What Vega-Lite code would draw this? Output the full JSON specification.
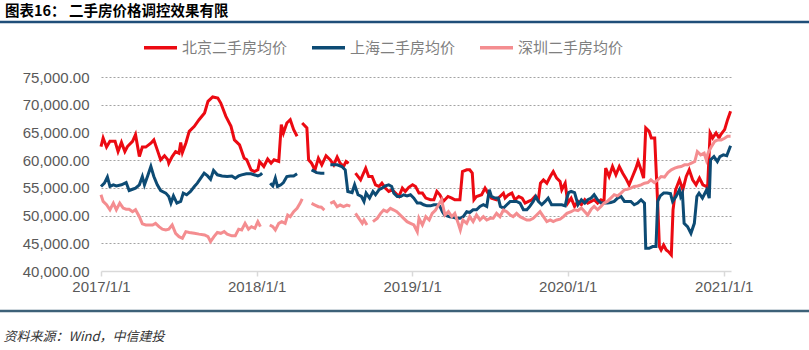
{
  "$schema": "https://vega.github.io/schema/vega-lite/v6.json",
  "width": 630,
  "height": 194,
  "autosize": "none",
  "padding": {"left": 101, "top": 77, "right": 78, "bottom": 79},
  "background": "white",
  "title": {
    "text": "图表16：  二手房价格调控效果有限",
    "anchor": "start",
    "frame": "group",
    "font": "Noto Sans CJK SC",
    "fontSize": 14.5,
    "fontWeight": "bold",
    "color": "#000000",
    "dx": -96,
    "dy": 10,
    "offset": 4,
    "baseline": "middle"
  },
  "config": {"view": {"stroke": null}, "font": "Liberation Sans"},
  "layer": [
    {
      "data": {"values": [{}]},
      "mark": {"type": "rule", "color": "#1f4e79", "strokeWidth": 2.5, "clip": false},
      "encoding": {
        "x": {"datum": {"year": 2016, "month": 1, "date": 1, "utc": true}, "type": "temporal"},
        "x2": {"datum": {"year": 2022, "month": 1, "date": 1, "utc": true}},
        "y": {
          "datum": 84923,
          "type": "quantitative",
          "axis": {
            "values": [40000, 45000, 50000, 55000, 60000, 65000, 70000, 75000],
            "format": ",.2f",
            "labelOverlap": false,
            "grid": true,
            "gridColor": "#8c8c8c",
            "gridDash": [2, 2],
            "gridWidth": 0.8,
            "gridOpacity": {"condition": {"test": "datum.value === 40000", "value": 0}, "value": 1},
            "domain": false,
            "ticks": false,
            "labelPadding": 12,
            "labelFont": "Liberation Sans",
            "labelFontSize": 15,
            "labelColor": "#595959",
            "title": null
          }
        }
      }
    },
    {
      "data": {"values": [{}]},
      "mark": {"type": "rule", "color": "#3d6178", "strokeWidth": 2.5, "clip": false},
      "encoding": {
        "x": {"datum": {"year": 2016, "month": 1, "date": 1, "utc": true}, "type": "temporal"},
        "x2": {"datum": {"year": 2022, "month": 1, "date": 1, "utc": true}},
        "y": {
          "datum": 32784,
          "type": "quantitative",
          "axis": {
            "values": [40000, 45000, 50000, 55000, 60000, 65000, 70000, 75000],
            "format": ",.2f",
            "labelOverlap": false,
            "grid": true,
            "gridColor": "#8c8c8c",
            "gridDash": [2, 2],
            "gridWidth": 0.8,
            "gridOpacity": {"condition": {"test": "datum.value === 40000", "value": 0}, "value": 1},
            "domain": false,
            "ticks": false,
            "labelPadding": 12,
            "labelFont": "Liberation Sans",
            "labelFontSize": 15,
            "labelColor": "#595959",
            "title": null
          }
        }
      }
    },
    {
      "data": {
        "format": {"parse": {"d": "utc:'%Y-%m-%d'"}},
        "values": [
          {"c":"北京二手房均价","d":"2017-01-01","v":62450},
          {"c":"北京二手房均价","d":"2017-01-06","v":64000},
          {"c":"北京二手房均价","d":"2017-01-14","v":62350},
          {"c":"北京二手房均价","d":"2017-01-22","v":63400},
          {"c":"北京二手房均价","d":"2017-02-03","v":63400},
          {"c":"北京二手房均价","d":"2017-02-10","v":61550},
          {"c":"北京二手房均价","d":"2017-02-18","v":63200},
          {"c":"北京二手房均价","d":"2017-02-26","v":61550},
          {"c":"北京二手房均价","d":"2017-03-04","v":62450},
          {"c":"北京二手房均价","d":"2017-03-16","v":63400},
          {"c":"北京二手房均价","d":"2017-03-23","v":64600},
          {"c":"北京二手房均价","d":"2017-04-01","v":60650},
          {"c":"北京二手房均价","d":"2017-04-08","v":62350},
          {"c":"北京二手房均价","d":"2017-04-16","v":62350},
          {"c":"北京二手房均价","d":"2017-04-28","v":63050},
          {"c":"北京二手房均价","d":"2017-05-05","v":63650},
          {"c":"北京二手房均价","d":"2017-05-13","v":61850},
          {"c":"北京二手房均价","d":"2017-05-21","v":60050},
          {"c":"北京二手房均价","d":"2017-05-30","v":60800},
          {"c":"北京二手房均价","d":"2017-06-07","v":60050},
          {"c":"北京二手房均价","d":"2017-06-09","v":59450},
          {"c":"北京二手房均价","d":"2017-06-17","v":60650},
          {"c":"北京二手房均价","d":"2017-06-25","v":61550},
          {"c":"北京二手房均价","d":"2017-07-03","v":61250},
          {"c":"北京二手房均价","d":"2017-07-07","v":63200},
          {"c":"北京二手房均价","d":"2017-07-11","v":61400},
          {"c":"北京二手房均价","d":"2017-07-19","v":63050},
          {"c":"北京二手房均价","d":"2017-07-27","v":65200},
          {"c":"北京二手房均价","d":"2017-08-08","v":66100},
          {"c":"北京二手房均价","d":"2017-08-19","v":67300},
          {"c":"北京二手房均价","d":"2017-09-01","v":68500},
          {"c":"北京二手房均价","d":"2017-09-09","v":70600},
          {"c":"北京二手房均价","d":"2017-09-20","v":71400},
          {"c":"北京二手房均价","d":"2017-10-02","v":71200},
          {"c":"北京二手房均价","d":"2017-10-09","v":70300},
          {"c":"北京二手房均价","d":"2017-10-21","v":67900},
          {"c":"北京二手房均价","d":"2017-11-02","v":66100},
          {"c":"北京二手房均价","d":"2017-11-10","v":63650},
          {"c":"北京二手房均价","d":"2017-11-22","v":62750},
          {"c":"北京二手房均价","d":"2017-12-03","v":60350},
          {"c":"北京二手房均价","d":"2017-12-09","v":60050},
          {"c":"北京二手房均价","d":"2017-12-19","v":58250},
          {"c":"北京二手房均价","d":"2017-12-27","v":57950},
          {"c":"北京二手房均价","d":"2018-01-04","v":58250},
          {"c":"北京二手房均价","d":"2018-01-08","v":59750},
          {"c":"北京二手房均价","d":"2018-01-18","v":58850},
          {"c":"北京二手房均价","d":"2018-01-27","v":60200},
          {"c":"北京二手房均价","d":"2018-02-04","v":59450},
          {"c":"北京二手房均价","d":"2018-02-11","v":60050},
          {"c":"北京二手房均价","d":"2018-02-22","v":59750},
          {"c":"北京二手房均价","d":"2018-02-28","v":66400},
          {"c":"北京二手房均价","d":"2018-03-05","v":64900},
          {"c":"北京二手房均价","d":"2018-03-13","v":66700},
          {"c":"北京二手房均价","d":"2018-03-21","v":67300},
          {"c":"北京二手房均价","d":"2018-03-29","v":65500},
          {"c":"北京二手房均价","d":"2018-04-06","v":64300},
          {"c":"北京二手房均价","d":"2018-04-12","v":null},
          {"c":"北京二手房均价","d":"2018-04-18","v":66700},
          {"c":"北京二手房均价","d":"2018-04-29","v":65800},
          {"c":"北京二手房均价","d":"2018-05-03","v":60050},
          {"c":"北京二手房均价","d":"2018-05-10","v":59450},
          {"c":"北京二手房均价","d":"2018-05-18","v":58250},
          {"c":"北京二手房均价","d":"2018-05-26","v":60350},
          {"c":"北京二手房均价","d":"2018-06-03","v":59150},
          {"c":"北京二手房均价","d":"2018-06-13","v":60800},
          {"c":"北京二手房均价","d":"2018-06-23","v":60050},
          {"c":"北京二手房均价","d":"2018-07-01","v":59150},
          {"c":"北京二手房均价","d":"2018-07-09","v":60550},
          {"c":"北京二手房均价","d":"2018-07-16","v":59450},
          {"c":"北京二手房均价","d":"2018-07-24","v":58850},
          {"c":"北京二手房均价","d":"2018-07-30","v":59750},
          {"c":"北京二手房均价","d":"2018-08-05","v":59450},
          {"c":"北京二手房均价","d":"2018-08-13","v":null},
          {"c":"北京二手房均价","d":"2018-08-21","v":57650},
          {"c":"北京二手房均价","d":"2018-09-02","v":56450},
          {"c":"北京二手房均价","d":"2018-09-14","v":58550},
          {"c":"北京二手房均价","d":"2018-09-21","v":57050},
          {"c":"北京二手房均价","d":"2018-09-29","v":57050},
          {"c":"北京二手房均价","d":"2018-10-07","v":55550},
          {"c":"北京二手房均价","d":"2018-10-15","v":55250},
          {"c":"北京二手房均价","d":"2018-10-22","v":55850},
          {"c":"北京二手房均价","d":"2018-10-30","v":54950},
          {"c":"北京二手房均价","d":"2018-11-07","v":54350},
          {"c":"北京二手房均价","d":"2018-11-15","v":54650},
          {"c":"北京二手房均价","d":"2018-11-23","v":54050},
          {"c":"北京二手房均价","d":"2018-12-01","v":53450},
          {"c":"北京二手房均价","d":"2018-12-09","v":54950},
          {"c":"北京二手房均价","d":"2018-12-16","v":54350},
          {"c":"北京二手房均价","d":"2018-12-24","v":55100},
          {"c":"北京二手房均价","d":"2019-01-02","v":55550},
          {"c":"北京二手房均价","d":"2019-01-09","v":55250},
          {"c":"北京二手房均价","d":"2019-01-17","v":54050},
          {"c":"北京二手房均价","d":"2019-01-25","v":54050},
          {"c":"北京二手房均价","d":"2019-02-02","v":53150},
          {"c":"北京二手房均价","d":"2019-02-13","v":52850},
          {"c":"北京二手房均价","d":"2019-02-21","v":52850},
          {"c":"北京二手房均价","d":"2019-02-28","v":54350},
          {"c":"北京二手房均价","d":"2019-03-07","v":53750},
          {"c":"北京二手房均价","d":"2019-03-15","v":52550},
          {"c":"北京二手房均价","d":"2019-03-26","v":53450},
          {"c":"北京二手房均价","d":"2019-04-04","v":53150},
          {"c":"北京二手房均价","d":"2019-04-11","v":52850},
          {"c":"北京二手房均价","d":"2019-04-23","v":52850},
          {"c":"北京二手房均价","d":"2019-04-29","v":57950},
          {"c":"北京二手房均价","d":"2019-05-09","v":58250},
          {"c":"北京二手房均价","d":"2019-05-16","v":58250},
          {"c":"北京二手房均价","d":"2019-05-22","v":57650},
          {"c":"北京二手房均价","d":"2019-05-26","v":52850},
          {"c":"北京二手房均价","d":"2019-06-01","v":53450},
          {"c":"北京二手房均价","d":"2019-06-13","v":53750},
          {"c":"北京二手房均价","d":"2019-06-21","v":54950},
          {"c":"北京二手房均价","d":"2019-06-28","v":54050},
          {"c":"北京二手房均价","d":"2019-07-06","v":53150},
          {"c":"北京二手房均价","d":"2019-07-18","v":52850},
          {"c":"北京二手房均价","d":"2019-07-26","v":53450},
          {"c":"北京二手房均价","d":"2019-08-03","v":54050},
          {"c":"北京二手房均价","d":"2019-08-07","v":53150},
          {"c":"北京二手房均价","d":"2019-08-15","v":53750},
          {"c":"北京二手房均价","d":"2019-08-23","v":54050},
          {"c":"北京二手房均价","d":"2019-08-30","v":52850},
          {"c":"北京二手房均价","d":"2019-09-08","v":53450},
          {"c":"北京二手房均价","d":"2019-09-16","v":53150},
          {"c":"北京二手房均价","d":"2019-09-23","v":52250},
          {"c":"北京二手房均价","d":"2019-10-01","v":52550},
          {"c":"北京二手房均价","d":"2019-10-09","v":52850},
          {"c":"北京二手房均价","d":"2019-10-16","v":53450},
          {"c":"北京二手房均价","d":"2019-10-24","v":52850},
          {"c":"北京二手房均价","d":"2019-10-29","v":55850},
          {"c":"北京二手房均价","d":"2019-11-05","v":56450},
          {"c":"北京二手房均价","d":"2019-11-13","v":55850},
          {"c":"北京二手房均价","d":"2019-11-21","v":57050},
          {"c":"北京二手房均价","d":"2019-11-28","v":57950},
          {"c":"北京二手房均价","d":"2019-12-06","v":56750},
          {"c":"北京二手房均价","d":"2019-12-14","v":56150},
          {"c":"北京二手房均价","d":"2019-12-18","v":54650},
          {"c":"北京二手房均价","d":"2019-12-26","v":55850},
          {"c":"北京二手房均价","d":"2020-01-01","v":52250},
          {"c":"北京二手房均价","d":"2020-01-09","v":53150},
          {"c":"北京二手房均价","d":"2020-01-17","v":51650},
          {"c":"北京二手房均价","d":"2020-01-25","v":52550},
          {"c":"北京二手房均价","d":"2020-02-02","v":51950},
          {"c":"北京二手房均价","d":"2020-02-10","v":52850},
          {"c":"北京二手房均价","d":"2020-02-17","v":52250},
          {"c":"北京二手房均价","d":"2020-02-25","v":52550},
          {"c":"北京二手房均价","d":"2020-03-03","v":52850},
          {"c":"北京二手房均价","d":"2020-03-11","v":52250},
          {"c":"北京二手房均价","d":"2020-03-19","v":52850},
          {"c":"北京二手房均价","d":"2020-03-26","v":52550},
          {"c":"北京二手房均价","d":"2020-03-30","v":58550},
          {"c":"北京二手房均价","d":"2020-04-07","v":57050},
          {"c":"北京二手房均价","d":"2020-04-15","v":58850},
          {"c":"北京二手房均价","d":"2020-04-23","v":57350},
          {"c":"北京二手房均价","d":"2020-05-01","v":58850},
          {"c":"北京二手房均价","d":"2020-05-09","v":57650},
          {"c":"北京二手房均价","d":"2020-05-16","v":56750},
          {"c":"北京二手房均价","d":"2020-05-24","v":55550},
          {"c":"北京二手房均价","d":"2020-06-01","v":57050},
          {"c":"北京二手房均价","d":"2020-06-09","v":58550},
          {"c":"北京二手房均价","d":"2020-06-14","v":59750},
          {"c":"北京二手房均价","d":"2020-06-21","v":58250},
          {"c":"北京二手房均价","d":"2020-06-27","v":56750},
          {"c":"北京二手房均价","d":"2020-07-02","v":65800},
          {"c":"北京二手房均价","d":"2020-07-10","v":65200},
          {"c":"北京二手房均价","d":"2020-07-15","v":64000},
          {"c":"北京二手房均价","d":"2020-07-23","v":64000},
          {"c":"北京二手房均价","d":"2020-07-26","v":58850},
          {"c":"北京二手房均价","d":"2020-07-30","v":52250},
          {"c":"北京二手房均价","d":"2020-08-03","v":44400},
          {"c":"北京二手房均价","d":"2020-08-07","v":43800},
          {"c":"北京二手房均价","d":"2020-08-13","v":44700},
          {"c":"北京二手房均价","d":"2020-08-19","v":43800},
          {"c":"北京二手房均价","d":"2020-08-24","v":43500},
          {"c":"北京二手房均价","d":"2020-08-31","v":42900},
          {"c":"北京二手房均价","d":"2020-09-04","v":51050},
          {"c":"北京二手房均价","d":"2020-09-10","v":54650},
          {"c":"北京二手房均价","d":"2020-09-19","v":56450},
          {"c":"北京二手房均价","d":"2020-09-27","v":54650},
          {"c":"北京二手房均价","d":"2020-10-05","v":57050},
          {"c":"北京二手房均价","d":"2020-10-12","v":58250},
          {"c":"北京二手房均价","d":"2020-10-20","v":56450},
          {"c":"北京二手房均价","d":"2020-10-28","v":55550},
          {"c":"北京二手房均价","d":"2020-11-05","v":56750},
          {"c":"北京二手房均价","d":"2020-11-13","v":55550},
          {"c":"北京二手房均价","d":"2020-11-21","v":55250},
          {"c":"北京二手房均价","d":"2020-11-24","v":54950},
          {"c":"北京二手房均价","d":"2020-11-30","v":64900},
          {"c":"北京二手房均价","d":"2020-12-06","v":64000},
          {"c":"北京二手房均价","d":"2020-12-14","v":64900},
          {"c":"北京二手房均价","d":"2020-12-21","v":64000},
          {"c":"北京二手房均价","d":"2020-12-25","v":64600},
          {"c":"北京二手房均价","d":"2021-01-03","v":65500},
          {"c":"北京二手房均价","d":"2021-01-10","v":67300},
          {"c":"北京二手房均价","d":"2021-01-17","v":68800},

          {"c":"上海二手房均价","d":"2017-01-01","v":55250},
          {"c":"上海二手房均价","d":"2017-01-09","v":55850},
          {"c":"上海二手房均价","d":"2017-01-16","v":56950},
          {"c":"上海二手房均价","d":"2017-01-22","v":55250},
          {"c":"上海二手房均价","d":"2017-01-30","v":55550},
          {"c":"上海二手房均价","d":"2017-02-06","v":55350},
          {"c":"上海二手房均价","d":"2017-02-18","v":55550},
          {"c":"上海二手房均价","d":"2017-03-01","v":55950},
          {"c":"上海二手房均价","d":"2017-03-08","v":54500},
          {"c":"上海二手房均价","d":"2017-03-16","v":54750},
          {"c":"上海二手房均价","d":"2017-03-23","v":54950},
          {"c":"上海二手房均价","d":"2017-04-01","v":55550},
          {"c":"上海二手房均价","d":"2017-04-08","v":57050},
          {"c":"上海二手房均价","d":"2017-04-13","v":55550},
          {"c":"上海二手房均价","d":"2017-04-20","v":57050},
          {"c":"上海二手房均价","d":"2017-04-28","v":58850},
          {"c":"上海二手房均价","d":"2017-05-05","v":57050},
          {"c":"上海二手房均价","d":"2017-05-13","v":55550},
          {"c":"上海二手房均价","d":"2017-05-21","v":54500},
          {"c":"上海二手房均价","d":"2017-06-02","v":54050},
          {"c":"上海二手房均价","d":"2017-06-09","v":53450},
          {"c":"上海二手房均价","d":"2017-06-14","v":52250},
          {"c":"上海二手房均价","d":"2017-06-20","v":53550},
          {"c":"上海二手房均价","d":"2017-06-28","v":52250},
          {"c":"上海二手房均价","d":"2017-07-07","v":52550},
          {"c":"上海二手房均价","d":"2017-07-13","v":54050},
          {"c":"上海二手房均价","d":"2017-07-21","v":53750},
          {"c":"上海二手房均价","d":"2017-07-30","v":54350},
          {"c":"上海二手房均价","d":"2017-08-08","v":55250},
          {"c":"上海二手房均价","d":"2017-08-15","v":55850},
          {"c":"上海二手房均价","d":"2017-08-23","v":56750},
          {"c":"上海二手房均价","d":"2017-08-31","v":57650},
          {"c":"上海二手房均价","d":"2017-09-08","v":57150},
          {"c":"上海二手房均价","d":"2017-09-15","v":56550},
          {"c":"上海二手房均价","d":"2017-09-22","v":58150},
          {"c":"上海二手房均价","d":"2017-10-01","v":57350},
          {"c":"上海二手房均价","d":"2017-10-12","v":57150},
          {"c":"上海二手房均价","d":"2017-10-24","v":57050},
          {"c":"上海二手房均价","d":"2017-11-04","v":57150},
          {"c":"上海二手房均价","d":"2017-11-12","v":56750},
          {"c":"上海二手房均价","d":"2017-11-20","v":57150},
          {"c":"上海二手房均价","d":"2017-11-27","v":57350},
          {"c":"上海二手房均价","d":"2017-12-08","v":57550},
          {"c":"上海二手房均价","d":"2017-12-19","v":57550},
          {"c":"上海二手房均价","d":"2018-01-04","v":57150},
          {"c":"上海二手房均价","d":"2018-01-10","v":57350},
          {"c":"上海二手房均价","d":"2018-01-14","v":57650},
          {"c":"上海二手房均价","d":"2018-01-22","v":null},
          {"c":"上海二手房均价","d":"2018-02-02","v":55850},
          {"c":"上海二手房均价","d":"2018-02-08","v":55350},
          {"c":"上海二手房均价","d":"2018-02-14","v":56750},
          {"c":"上海二手房均价","d":"2018-02-19","v":55250},
          {"c":"上海二手房均价","d":"2018-02-27","v":55550},
          {"c":"上海二手房均价","d":"2018-03-05","v":55950},
          {"c":"上海二手房均价","d":"2018-03-13","v":57050},
          {"c":"上海二手房均价","d":"2018-03-21","v":57150},
          {"c":"上海二手房均价","d":"2018-03-29","v":57150},
          {"c":"上海二手房均价","d":"2018-04-06","v":57550},
          {"c":"上海二手房均价","d":"2018-04-20","v":null},
          {"c":"上海二手房均价","d":"2018-05-10","v":58250},
          {"c":"上海二手房均价","d":"2018-05-22","v":57750},
          {"c":"上海二手房均价","d":"2018-06-01","v":57650},
          {"c":"上海二手房均价","d":"2018-06-09","v":57650},
          {"c":"上海二手房均价","d":"2018-06-16","v":null},
          {"c":"上海二手房均价","d":"2018-06-23","v":59150},
          {"c":"上海二手房均价","d":"2018-07-09","v":59150},
          {"c":"上海二手房均价","d":"2018-07-20","v":58850},
          {"c":"上海二手房均价","d":"2018-07-28","v":58250},
          {"c":"上海二手房均价","d":"2018-08-03","v":54350},
          {"c":"上海二手房均价","d":"2018-08-13","v":54150},
          {"c":"上海二手房均价","d":"2018-08-19","v":55550},
          {"c":"上海二手房均价","d":"2018-08-27","v":53750},
          {"c":"上海二手房均价","d":"2018-09-04","v":53450},
          {"c":"上海二手房均价","d":"2018-09-10","v":52550},
          {"c":"上海二手房均价","d":"2018-09-15","v":54050},
          {"c":"上海二手房均价","d":"2018-09-23","v":53150},
          {"c":"上海二手房均价","d":"2018-10-01","v":54350},
          {"c":"上海二手房均价","d":"2018-10-07","v":53750},
          {"c":"上海二手房均价","d":"2018-10-15","v":54650},
          {"c":"上海二手房均价","d":"2018-10-22","v":54950},
          {"c":"上海二手房均价","d":"2018-10-30","v":55350},
          {"c":"上海二手房均价","d":"2018-11-07","v":55550},
          {"c":"上海二手房均价","d":"2018-11-14","v":55250},
          {"c":"上海二手房均价","d":"2018-11-19","v":54050},
          {"c":"上海二手房均价","d":"2018-11-27","v":53450},
          {"c":"上海二手房均价","d":"2018-12-05","v":53450},
          {"c":"上海二手房均价","d":"2018-12-12","v":53750},
          {"c":"上海二手房均价","d":"2018-12-20","v":53550},
          {"c":"上海二手房均价","d":"2018-12-28","v":53750},
          {"c":"上海二手房均价","d":"2019-01-05","v":53150},
          {"c":"上海二手房均价","d":"2019-01-13","v":52250},
          {"c":"上海二手房均价","d":"2019-01-21","v":52250},
          {"c":"上海二手房均价","d":"2019-01-28","v":51950},
          {"c":"上海二手房均价","d":"2019-02-05","v":51750},
          {"c":"上海二手房均价","d":"2019-02-13","v":51750},
          {"c":"上海二手房均价","d":"2019-02-21","v":51950},
          {"c":"上海二手房均价","d":"2019-02-28","v":51950},
          {"c":"上海二手房均价","d":"2019-03-07","v":51650},
          {"c":"上海二手房均价","d":"2019-03-13","v":50700},
          {"c":"上海二手房均价","d":"2019-03-18","v":50100},
          {"c":"上海二手房均价","d":"2019-03-30","v":49800},
          {"c":"上海二手房均价","d":"2019-04-08","v":49700},
          {"c":"上海二手房均价","d":"2019-04-15","v":49500},
          {"c":"上海二手房均价","d":"2019-04-23","v":49500},
          {"c":"上海二手房均价","d":"2019-05-01","v":49800},
          {"c":"上海二手房均价","d":"2019-05-09","v":50700},
          {"c":"上海二手房均价","d":"2019-05-16","v":50550},
          {"c":"上海二手房均价","d":"2019-05-24","v":51050},
          {"c":"上海二手房均价","d":"2019-06-01","v":51050},
          {"c":"上海二手房均价","d":"2019-06-09","v":51650},
          {"c":"上海二手房均价","d":"2019-06-17","v":51950},
          {"c":"上海二手房均价","d":"2019-06-25","v":51650},
          {"c":"上海二手房均价","d":"2019-07-01","v":54650},
          {"c":"上海二手房均价","d":"2019-07-06","v":53450},
          {"c":"上海二手房均价","d":"2019-07-14","v":53150},
          {"c":"上海二手房均价","d":"2019-07-22","v":53150},
          {"c":"上海二手房均价","d":"2019-07-27","v":51650},
          {"c":"上海二手房均价","d":"2019-08-03","v":51350},
          {"c":"上海二手房均价","d":"2019-08-11","v":51950},
          {"c":"上海二手房均价","d":"2019-08-19","v":52550},
          {"c":"上海二手房均价","d":"2019-08-26","v":52550},
          {"c":"上海二手房均价","d":"2019-09-03","v":52550},
          {"c":"上海二手房均价","d":"2019-09-11","v":52250},
          {"c":"上海二手房均价","d":"2019-09-19","v":51050},
          {"c":"上海二手房均价","d":"2019-09-27","v":51050},
          {"c":"上海二手房均价","d":"2019-10-04","v":51650},
          {"c":"上海二手房均价","d":"2019-10-12","v":52550},
          {"c":"上海二手房均价","d":"2019-10-18","v":53450},
          {"c":"上海二手房均价","d":"2019-10-24","v":52550},
          {"c":"上海二手房均价","d":"2019-11-01","v":51950},
          {"c":"上海二手房均价","d":"2019-11-09","v":52550},
          {"c":"上海二手房均价","d":"2019-11-16","v":53150},
          {"c":"上海二手房均价","d":"2019-11-24","v":51950},
          {"c":"上海二手房均价","d":"2019-12-02","v":51950},
          {"c":"上海二手房均价","d":"2019-12-10","v":51950},
          {"c":"上海二手房均价","d":"2019-12-18","v":51950},
          {"c":"上海二手房均价","d":"2019-12-26","v":51750},
          {"c":"上海二手房均价","d":"2019-12-30","v":53150},
          {"c":"上海二手房均价","d":"2020-01-03","v":54150},
          {"c":"上海二手房均价","d":"2020-01-09","v":54350},
          {"c":"上海二手房均价","d":"2020-01-17","v":54150},
          {"c":"上海二手房均价","d":"2020-01-25","v":51950},
          {"c":"上海二手房均价","d":"2020-02-02","v":52850},
          {"c":"上海二手房均价","d":"2020-02-10","v":52250},
          {"c":"上海二手房均价","d":"2020-02-17","v":52850},
          {"c":"上海二手房均价","d":"2020-02-25","v":53150},
          {"c":"上海二手房均价","d":"2020-03-03","v":53750},
          {"c":"上海二手房均价","d":"2020-03-11","v":52850},
          {"c":"上海二手房均价","d":"2020-03-19","v":52250},
          {"c":"上海二手房均价","d":"2020-03-26","v":52250},
          {"c":"上海二手房均价","d":"2020-04-03","v":52250},
          {"c":"上海二手房均价","d":"2020-04-11","v":52350},
          {"c":"上海二手房均价","d":"2020-04-19","v":52550},
          {"c":"上海二手房均价","d":"2020-04-27","v":53150},
          {"c":"上海二手房均价","d":"2020-05-05","v":53450},
          {"c":"上海二手房均价","d":"2020-05-13","v":52550},
          {"c":"上海二手房均价","d":"2020-05-20","v":52550},
          {"c":"上海二手房均价","d":"2020-05-28","v":52550},
          {"c":"上海二手房均价","d":"2020-06-05","v":51950},
          {"c":"上海二手房均价","d":"2020-06-13","v":52250},
          {"c":"上海二手房均价","d":"2020-06-21","v":52850},
          {"c":"上海二手房均价","d":"2020-06-29","v":52250},
          {"c":"上海二手房均价","d":"2020-07-02","v":44100},
          {"c":"上海二手房均价","d":"2020-07-10","v":44100},
          {"c":"上海二手房均价","d":"2020-07-18","v":44400},
          {"c":"上海二手房均价","d":"2020-07-26","v":44400},
          {"c":"上海二手房均价","d":"2020-07-30","v":52550},
          {"c":"上海二手房均价","d":"2020-08-05","v":53550},
          {"c":"上海二手房均价","d":"2020-08-13","v":54050},
          {"c":"上海二手房均价","d":"2020-08-21","v":54050},
          {"c":"上海二手房均价","d":"2020-08-29","v":53950},
          {"c":"上海二手房均价","d":"2020-09-03","v":52550},
          {"c":"上海二手房均价","d":"2020-09-11","v":53450},
          {"c":"上海二手房均价","d":"2020-09-19","v":54650},
          {"c":"上海二手房均价","d":"2020-09-22","v":53450},
          {"c":"上海二手房均价","d":"2020-09-26","v":54050},
          {"c":"上海二手房均价","d":"2020-09-30","v":48600},
          {"c":"上海二手房均价","d":"2020-10-08","v":48000},
          {"c":"上海二手房均价","d":"2020-10-16","v":46800},
          {"c":"上海二手房均价","d":"2020-10-24","v":48600},
          {"c":"上海二手房均价","d":"2020-10-30","v":53450},
          {"c":"上海二手房均价","d":"2020-11-04","v":54050},
          {"c":"上海二手房均价","d":"2020-11-12","v":53150},
          {"c":"上海二手房均价","d":"2020-11-16","v":53750},
          {"c":"上海二手房均价","d":"2020-11-22","v":54650},
          {"c":"上海二手房均价","d":"2020-11-28","v":53150},
          {"c":"上海二手房均价","d":"2020-12-01","v":60050},
          {"c":"上海二手房均价","d":"2020-12-09","v":60650},
          {"c":"上海二手房均价","d":"2020-12-17","v":59750},
          {"c":"上海二手房均价","d":"2020-12-23","v":60650},
          {"c":"上海二手房均价","d":"2020-12-31","v":60950},
          {"c":"上海二手房均价","d":"2021-01-08","v":60800},
          {"c":"上海二手房均价","d":"2021-01-17","v":62600},

          {"c":"深圳二手房均价","d":"2017-01-01","v":53750},
          {"c":"深圳二手房均价","d":"2017-01-06","v":52550},
          {"c":"深圳二手房均价","d":"2017-01-14","v":51950},
          {"c":"深圳二手房均价","d":"2017-01-22","v":51050},
          {"c":"深圳二手房均价","d":"2017-01-30","v":52250},
          {"c":"深圳二手房均价","d":"2017-02-06","v":51050},
          {"c":"深圳二手房均价","d":"2017-02-14","v":52250},
          {"c":"深圳二手房均价","d":"2017-02-22","v":51350},
          {"c":"深圳二手房均价","d":"2017-03-01","v":51150},
          {"c":"深圳二手房均价","d":"2017-03-08","v":51150},
          {"c":"深圳二手房均价","d":"2017-03-16","v":50700},
          {"c":"深圳二手房均价","d":"2017-03-23","v":51050},
          {"c":"深圳二手房均价","d":"2017-04-01","v":49800},
          {"c":"深圳二手房均价","d":"2017-04-08","v":48500},
          {"c":"深圳二手房均价","d":"2017-04-16","v":48300},
          {"c":"深圳二手房均价","d":"2017-04-24","v":48300},
          {"c":"深圳二手房均价","d":"2017-05-02","v":48300},
          {"c":"深圳二手房均价","d":"2017-05-09","v":48600},
          {"c":"深圳二手房均价","d":"2017-05-17","v":48000},
          {"c":"深圳二手房均价","d":"2017-05-25","v":47550},
          {"c":"深圳二手房均价","d":"2017-06-02","v":47400},
          {"c":"深圳二手房均价","d":"2017-06-09","v":47550},
          {"c":"深圳二手房均价","d":"2017-06-17","v":48300},
          {"c":"深圳二手房均价","d":"2017-06-25","v":46800},
          {"c":"深圳二手房均价","d":"2017-07-03","v":46200},
          {"c":"深圳二手房均价","d":"2017-07-11","v":45900},
          {"c":"深圳二手房均价","d":"2017-07-19","v":47100},
          {"c":"深圳二手房均价","d":"2017-07-27","v":46950},
          {"c":"深圳二手房均价","d":"2017-08-08","v":46800},
          {"c":"深圳二手房均价","d":"2017-08-19","v":46650},
          {"c":"深圳二手房均价","d":"2017-09-01","v":46500},
          {"c":"深圳二手房均价","d":"2017-09-09","v":46200},
          {"c":"深圳二手房均价","d":"2017-09-15","v":45300},
          {"c":"深圳二手房均价","d":"2017-09-23","v":46200},
          {"c":"深圳二手房均价","d":"2017-10-01","v":46950},
          {"c":"深圳二手房均价","d":"2017-10-09","v":46800},
          {"c":"深圳二手房均价","d":"2017-10-17","v":47100},
          {"c":"深圳二手房均价","d":"2017-10-24","v":46650},
          {"c":"深圳二手房均价","d":"2017-11-04","v":46350},
          {"c":"深圳二手房均价","d":"2017-11-12","v":46350},
          {"c":"深圳二手房均价","d":"2017-11-20","v":47550},
          {"c":"深圳二手房均价","d":"2017-11-27","v":47400},
          {"c":"深圳二手房均价","d":"2017-12-05","v":48600},
          {"c":"深圳二手房均价","d":"2017-12-13","v":47550},
          {"c":"深圳二手房均价","d":"2017-12-20","v":48000},
          {"c":"深圳二手房均价","d":"2017-12-28","v":47700},
          {"c":"深圳二手房均价","d":"2018-01-04","v":48900},
          {"c":"深圳二手房均价","d":"2018-01-10","v":48000},
          {"c":"深圳二手房均价","d":"2018-01-22","v":null},
          {"c":"深圳二手房均价","d":"2018-02-01","v":48300},
          {"c":"深圳二手房均价","d":"2018-02-08","v":48000},
          {"c":"深圳二手房均价","d":"2018-02-14","v":47400},
          {"c":"深圳二手房均价","d":"2018-02-22","v":48600},
          {"c":"深圳二手房均价","d":"2018-03-01","v":48900},
          {"c":"深圳二手房均价","d":"2018-03-09","v":48600},
          {"c":"深圳二手房均价","d":"2018-03-15","v":50100},
          {"c":"深圳二手房均价","d":"2018-03-21","v":49800},
          {"c":"深圳二手房均价","d":"2018-03-29","v":50700},
          {"c":"深圳二手房均价","d":"2018-04-06","v":51300},
          {"c":"深圳二手房均价","d":"2018-04-13","v":52200},
          {"c":"深圳二手房均价","d":"2018-04-18","v":53000},
          {"c":"深圳二手房均价","d":"2018-04-30","v":null},
          {"c":"深圳二手房均价","d":"2018-05-10","v":52200},
          {"c":"深圳二手房均价","d":"2018-05-18","v":51900},
          {"c":"深圳二手房均价","d":"2018-05-26","v":51600},
          {"c":"深圳二手房均价","d":"2018-06-02","v":51500},
          {"c":"深圳二手房均价","d":"2018-06-09","v":51000},
          {"c":"深圳二手房均价","d":"2018-06-16","v":null},
          {"c":"深圳二手房均价","d":"2018-06-23","v":52200},
          {"c":"深圳二手房均价","d":"2018-07-01","v":52500},
          {"c":"深圳二手房均价","d":"2018-07-09","v":51600},
          {"c":"深圳二手房均价","d":"2018-07-16","v":51900},
          {"c":"深圳二手房均价","d":"2018-07-24","v":51600},
          {"c":"深圳二手房均价","d":"2018-08-01","v":51900},
          {"c":"深圳二手房均价","d":"2018-08-09","v":51700},
          {"c":"深圳二手房均价","d":"2018-08-15","v":null},
          {"c":"深圳二手房均价","d":"2018-08-21","v":50400},
          {"c":"深圳二手房均价","d":"2018-08-29","v":49500},
          {"c":"深圳二手房均价","d":"2018-09-06","v":48600},
          {"c":"深圳二手房均价","d":"2018-09-10","v":49200},
          {"c":"深圳二手房均价","d":"2018-09-17","v":48300},
          {"c":"深圳二手房均价","d":"2018-09-24","v":null},
          {"c":"深圳二手房均价","d":"2018-10-01","v":48900},
          {"c":"深圳二手房均价","d":"2018-10-11","v":49500},
          {"c":"深圳二手房均价","d":"2018-10-19","v":50400},
          {"c":"深圳二手房均价","d":"2018-10-26","v":51000},
          {"c":"深圳二手房均价","d":"2018-11-03","v":50700},
          {"c":"深圳二手房均价","d":"2018-11-11","v":51300},
          {"c":"深圳二手房均价","d":"2018-11-19","v":51000},
          {"c":"深圳二手房均价","d":"2018-11-26","v":50700},
          {"c":"深圳二手房均价","d":"2018-12-04","v":50100},
          {"c":"深圳二手房均价","d":"2018-12-12","v":49500},
          {"c":"深圳二手房均价","d":"2018-12-20","v":48900},
          {"c":"深圳二手房均价","d":"2018-12-28","v":48600},
          {"c":"深圳二手房均价","d":"2019-01-05","v":48300},
          {"c":"深圳二手房均价","d":"2019-01-13","v":47100},
          {"c":"深圳二手房均价","d":"2019-01-17","v":49500},
          {"c":"深圳二手房均价","d":"2019-01-25","v":48300},
          {"c":"深圳二手房均价","d":"2019-02-02","v":49800},
          {"c":"深圳二手房均价","d":"2019-02-10","v":49200},
          {"c":"深圳二手房均价","d":"2019-02-17","v":50400},
          {"c":"深圳二手房均价","d":"2019-02-25","v":51000},
          {"c":"深圳二手房均价","d":"2019-03-04","v":51950},
          {"c":"深圳二手房均价","d":"2019-03-11","v":52850},
          {"c":"深圳二手房均价","d":"2019-03-19","v":50100},
          {"c":"深圳二手房均价","d":"2019-03-27","v":50700},
          {"c":"深圳二手房均价","d":"2019-04-04","v":49800},
          {"c":"深圳二手房均价","d":"2019-04-11","v":50400},
          {"c":"深圳二手房均价","d":"2019-04-19","v":48600},
          {"c":"深圳二手房均价","d":"2019-04-24","v":47400},
          {"c":"深圳二手房均价","d":"2019-04-30","v":49200},
          {"c":"深圳二手房均价","d":"2019-05-09","v":48600},
          {"c":"深圳二手房均价","d":"2019-05-16","v":49800},
          {"c":"深圳二手房均价","d":"2019-05-24","v":48900},
          {"c":"深圳二手房均价","d":"2019-06-01","v":50100},
          {"c":"深圳二手房均价","d":"2019-06-09","v":49200},
          {"c":"深圳二手房均价","d":"2019-06-17","v":49800},
          {"c":"深圳二手房均价","d":"2019-06-25","v":49200},
          {"c":"深圳二手房均价","d":"2019-07-03","v":49500},
          {"c":"深圳二手房均价","d":"2019-07-10","v":49500},
          {"c":"深圳二手房均价","d":"2019-07-18","v":50400},
          {"c":"深圳二手房均价","d":"2019-07-26","v":49800},
          {"c":"深圳二手房均价","d":"2019-08-03","v":51000},
          {"c":"深圳二手房均价","d":"2019-08-11","v":50700},
          {"c":"深圳二手房均价","d":"2019-08-19","v":50100},
          {"c":"深圳二手房均价","d":"2019-08-26","v":49800},
          {"c":"深圳二手房均价","d":"2019-09-03","v":50400},
          {"c":"深圳二手房均价","d":"2019-09-11","v":49800},
          {"c":"深圳二手房均价","d":"2019-09-19","v":49500},
          {"c":"深圳二手房均价","d":"2019-09-27","v":49200},
          {"c":"深圳二手房均价","d":"2019-10-04","v":49200},
          {"c":"深圳二手房均价","d":"2019-10-12","v":49500},
          {"c":"深圳二手房均价","d":"2019-10-20","v":50100},
          {"c":"深圳二手房均价","d":"2019-10-28","v":50700},
          {"c":"深圳二手房均价","d":"2019-11-05","v":49800},
          {"c":"深圳二手房均价","d":"2019-11-13","v":48900},
          {"c":"深圳二手房均价","d":"2019-11-21","v":49200},
          {"c":"深圳二手房均价","d":"2019-11-28","v":48900},
          {"c":"深圳二手房均价","d":"2019-12-06","v":49200},
          {"c":"深圳二手房均价","d":"2019-12-14","v":49350},
          {"c":"深圳二手房均价","d":"2019-12-22","v":49800},
          {"c":"深圳二手房均价","d":"2019-12-30","v":50400},
          {"c":"深圳二手房均价","d":"2020-01-09","v":50700},
          {"c":"深圳二手房均价","d":"2020-01-17","v":51050},
          {"c":"深圳二手房均价","d":"2020-01-25","v":50900},
          {"c":"深圳二手房均价","d":"2020-02-02","v":51350},
          {"c":"深圳二手房均价","d":"2020-02-10","v":50700},
          {"c":"深圳二手房均价","d":"2020-02-17","v":50100},
          {"c":"深圳二手房均价","d":"2020-02-25","v":51150},
          {"c":"深圳二手房均价","d":"2020-03-03","v":51650},
          {"c":"深圳二手房均价","d":"2020-03-11","v":51050},
          {"c":"深圳二手房均价","d":"2020-03-19","v":51650},
          {"c":"深圳二手房均价","d":"2020-03-26","v":52250},
          {"c":"深圳二手房均价","d":"2020-04-03","v":52550},
          {"c":"深圳二手房均价","d":"2020-04-11","v":53150},
          {"c":"深圳二手房均价","d":"2020-04-19","v":53750},
          {"c":"深圳二手房均价","d":"2020-04-27","v":53550},
          {"c":"深圳二手房均价","d":"2020-05-05","v":54050},
          {"c":"深圳二手房均价","d":"2020-05-13","v":54650},
          {"c":"深圳二手房均价","d":"2020-05-20","v":54750},
          {"c":"深圳二手房均价","d":"2020-05-28","v":54950},
          {"c":"深圳二手房均价","d":"2020-06-05","v":55250},
          {"c":"深圳二手房均价","d":"2020-06-13","v":55350},
          {"c":"深圳二手房均价","d":"2020-06-21","v":55550},
          {"c":"深圳二手房均价","d":"2020-06-29","v":55850},
          {"c":"深圳二手房均价","d":"2020-07-07","v":55950},
          {"c":"深圳二手房均价","d":"2020-07-14","v":56450},
          {"c":"深圳二手房均价","d":"2020-07-22","v":55950},
          {"c":"深圳二手房均价","d":"2020-07-30","v":56450},
          {"c":"深圳二手房均价","d":"2020-08-07","v":57050},
          {"c":"深圳二手房均价","d":"2020-08-15","v":56950},
          {"c":"深圳二手房均价","d":"2020-08-23","v":57750},
          {"c":"深圳二手房均价","d":"2020-08-31","v":58250},
          {"c":"深圳二手房均价","d":"2020-09-08","v":58550},
          {"c":"深圳二手房均价","d":"2020-09-16","v":58750},
          {"c":"深圳二手房均价","d":"2020-09-23","v":58850},
          {"c":"深圳二手房均价","d":"2020-10-01","v":59150},
          {"c":"深圳二手房均价","d":"2020-10-09","v":59150},
          {"c":"深圳二手房均价","d":"2020-10-17","v":59450},
          {"c":"深圳二手房均价","d":"2020-10-25","v":59750},
          {"c":"深圳二手房均价","d":"2020-10-31","v":61550},
          {"c":"深圳二手房均价","d":"2020-11-08","v":60950},
          {"c":"深圳二手房均价","d":"2020-11-16","v":61250},
          {"c":"深圳二手房均价","d":"2020-11-21","v":60050},
          {"c":"深圳二手房均价","d":"2020-11-25","v":61250},
          {"c":"深圳二手房均价","d":"2020-12-03","v":62450},
          {"c":"深圳二手房均价","d":"2020-12-11","v":63400},
          {"c":"深圳二手房均价","d":"2020-12-18","v":63650},
          {"c":"深圳二手房均价","d":"2020-12-26","v":63650},
          {"c":"深圳二手房均价","d":"2021-01-03","v":63950},
          {"c":"深圳二手房均价","d":"2021-01-10","v":64300},
          {"c":"深圳二手房均价","d":"2021-01-17","v":64300}
        ]
      },
      "mark": {"type": "line", "strokeWidth": 3, "invalid": "break-paths-show-domains"},
      "encoding": {
        "x": {
          "field": "d",
          "type": "temporal",
          "scale": {
            "type": "utc",
            "domain": [
              {"year": 2017, "month": 1, "date": 1, "utc": true},
              {"year": 2021, "month": 1, "date": 18, "utc": true}
            ]
          },
          "axis": {
            "values": [
              {"year": 2017, "month": 1, "date": 1, "utc": true},
              {"year": 2018, "month": 1, "date": 1, "utc": true},
              {"year": 2019, "month": 1, "date": 1, "utc": true},
              {"year": 2020, "month": 1, "date": 1, "utc": true},
              {"year": 2021, "month": 1, "date": 1, "utc": true}
            ],
            "format": "%Y/%-m/%-d",
            "labelFlush": false,
            "labelOverlap": false,
            "labelFont": "Liberation Sans",
            "labelFontSize": 15,
            "labelColor": "#595959",
            "labelPadding": 3,
            "domainColor": "#d9d9d9",
            "domainWidth": 1.5,
            "tickColor": "#d9d9d9",
            "tickWidth": 1.5,
            "tickSize": 5,
            "grid": false,
            "zindex": 1,
            "title": "资料来源：Wind，中信建投",
            "titleX": -98,
            "titleY": 65,
            "titleAlign": "left",
            "titleBaseline": "middle",
            "titleFont": "Noto Sans CJK SC",
            "titleFontSize": 13,
            "titleFontStyle": "italic",
            "titleFontWeight": "normal",
            "titleColor": "#333333"
          }
        },
        "y": {
          "field": "v",
          "type": "quantitative",
          "scale": {"domain": [40000, 75000], "nice": false, "zero": false},
          "axis": {
            "values": [40000, 45000, 50000, 55000, 60000, 65000, 70000, 75000],
            "format": ",.2f",
            "labelOverlap": false,
            "grid": true,
            "gridColor": "#8c8c8c",
            "gridDash": [2, 2],
            "gridWidth": 0.8,
            "gridOpacity": {"condition": {"test": "datum.value === 40000", "value": 0}, "value": 1},
            "domain": false,
            "ticks": false,
            "labelPadding": 12,
            "labelFont": "Liberation Sans",
            "labelFontSize": 15,
            "labelColor": "#595959",
            "title": null
          }
        },
        "color": {
          "field": "c",
          "type": "nominal",
          "scale": {
            "domain": ["北京二手房均价", "上海二手房均价", "深圳二手房均价"],
            "range": ["#ec0a12", "#0d4b74", "#f48d90"]
          },
          "legend": {
            "title": null,
            "orient": "none",
            "legendX": 41,
            "legendY": -48,
            "direction": "horizontal",
            "symbolType": "stroke",
            "symbolSize": 1089,
            "symbolStrokeWidth": 3.5,
            "labelFont": "Noto Sans CJK SC",
            "labelFontSize": 15,
            "labelColor": "#7f7f7f",
            "labelOffset": 3,
            "columnPadding": 17,
            "padding": 0
          }
        }
      }
    }
  ]
}
